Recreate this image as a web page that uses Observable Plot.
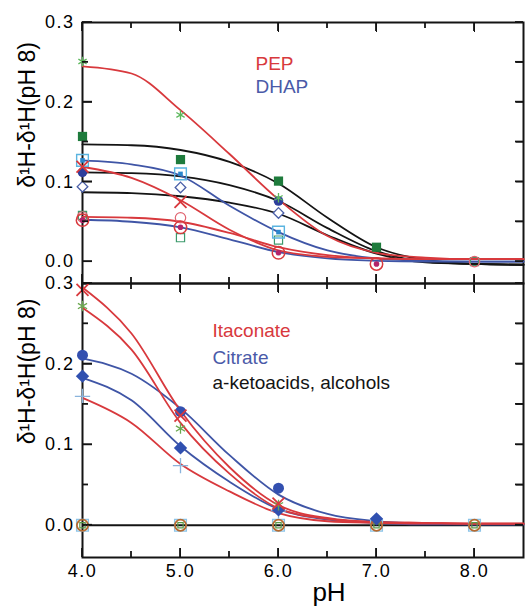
<!DOCTYPE html>
<html><head><meta charset="utf-8">
<script src="https://cdn.jsdelivr.net/npm/d3@7"></script>
<script src="https://cdn.jsdelivr.net/npm/@observablehq/plot@0.6"></script>
<style>
body{margin:0;background:#fff;}
#chart{position:relative;width:525px;height:607px;background:#fff;}
#chart svg{position:absolute;left:0;}
</style></head><body><div id="chart"></div>
<script>
const pH = [4, 5, 6, 7, 8];
const pHfit = [4, 4.5, 5, 5.5, 6, 6.5, 7, 7.5, 8, 8.5];
const xMajor = [4, 5, 6, 7, 8];
const xMinor = [4.5, 5.5, 6.5, 7.5];
const yMajor = [0, 0.1, 0.2, 0.3];
const yMinor = [0.05, 0.15, 0.25];
const yTitle = "δ¹H-δ¹H(pH 8)";
const xTitle = "pH";

const topLabels = ["PEP", "DHAP"];
const topStar      = [0.251, 0.184, 0.080, null, null];
const topGreenSq   = [0.157, 0.128, 0.101, 0.018, null];
const topCyanSq    = [0.127, 0.110, 0.037, null, null];
const topBlueDot   = [0.112, null, 0.076, null, null];
const topDiamond   = [0.094, 0.093, 0.061, null, null];
const topRedX      = [0.119, 0.075, null, null, null];
const topRedCircle = [0.056, 0.055, null, null, 0.000];
const topBullseye  = [0.052, 0.043, 0.011, -0.003, null];
const topGreenOpen = [0.058, 0.030, 0.027, null, 0.000];

const fitPEP    = [0.245, 0.236, 0.190, 0.135, 0.078, 0.032, 0.011, 0.005, 0.003, 0.003];
const fitRed2   = [0.119, 0.105, 0.077, 0.040, 0.014, 0.006, 0.004, 0.003, 0.003, 0.003];
const fitRed3   = [0.056, 0.055, 0.050, 0.036, 0.018, 0.008, 0.004, 0.003, 0.003, 0.003];
const fitBlack1 = [0.147, 0.146, 0.140, 0.125, 0.098, 0.055, 0.018, 0.002, -0.003, -0.004];
const fitBlack2 = [0.112, 0.111, 0.107, 0.096, 0.076, 0.042, 0.013, 0.000, -0.003, -0.004];
const fitBlack3 = [0.087, 0.086, 0.082, 0.074, 0.060, 0.033, 0.010, -0.001, -0.003, -0.004];
const fitBlue1  = [0.127, 0.122, 0.108, 0.070, 0.037, 0.014, 0.004, 0.001, 0.000, 0.000];
const fitBlue2  = [0.0525, 0.050, 0.043, 0.028, 0.012, 0.004, 0.001, 0.000, 0.000, 0.000];

const botLabels = ["Itaconate", "Citrate", "a-ketoacids, alcohols"];
const botRedX    = [0.292, 0.136, 0.027, null, null];
const botStar    = [0.272, 0.120, 0.025, null, null];
const botBlueDot = [0.211, 0.141, 0.046, null, null];
const botDiamond = [0.185, 0.096, 0.019, 0.008, null];
const botPlus    = [0.160, 0.074, 0.018, null, null];
const botZero    = [0, 0, 0, 0, 0];

const fitBX      = [0.295, 0.238, 0.142, 0.072, 0.025, 0.009, 0.004, 0.003, 0.002, 0.002];
const fitBStar   = [0.270, 0.218, 0.127, 0.064, 0.021, 0.008, 0.004, 0.003, 0.002, 0.002];
const fitBDot    = [0.207, 0.188, 0.145, 0.087, 0.038, 0.014, 0.005, 0.002, 0.001, 0.001];
const fitBDiam   = [0.183, 0.155, 0.098, 0.054, 0.020, 0.007, 0.003, 0.001, 0.001, 0.001];
const fitBPlus   = [0.158, 0.127, 0.076, 0.042, 0.015, 0.005, 0.003, 0.002, 0.002, 0.002];

const RED = "#d8393d", BLUE = "#3f55a6", BLACK = "#141414";
const font = "'Liberation Sans', Arial, Helvetica, sans-serif";
const W = 525, ML = 82, MR = 2;
const pts = ys => pH.map((x, i) => [x, ys[i]]);
const fit = ys => pHfit.map((x, i) => [x, ys[i]]);
const svgStyle = {fontSize: "18px", fontFamily: font, overflow: "visible"};
const none = () => "";

function frameTicks() {
  return [
    Plot.frame({stroke: BLACK, strokeWidth: 2, fill: "none"}),
    Plot.axisX({anchor: "top", ticks: xMajor, tickSize: -9, tickFormat: none, stroke: BLACK}),
    Plot.axisX({anchor: "bottom", ticks: xMajor, tickSize: -9, tickFormat: none, stroke: BLACK}),
    Plot.axisY({anchor: "left", ticks: yMajor, tickSize: -10, tickFormat: none, stroke: BLACK}),
    Plot.axisY({anchor: "right", ticks: yMajor.concat(yMinor), tickSize: -8, tickFormat: none, stroke: BLACK})
  ];
}
const line = (ys, stroke) => Plot.line(fit(ys), {stroke, strokeWidth: 1.8, curve: "monotone-x"});
const yLabels = () => Plot.axisY({anchor: "left", ticks: yMajor, tickSize: 0, tickPadding: 8, tickFormat: d3.format(".1f"), label: null});

const topChart = Plot.plot({
  width: W, height: 283, marginTop: 22, marginBottom: 0, marginLeft: ML, marginRight: MR,
  x: {domain: [4, 8.5], axis: null},
  y: {domain: [-0.0275, 0.3], axis: null},
  style: svgStyle,
  marks: [
    ...frameTicks(),
    yLabels(),
    Plot.text([yTitle], {frameAnchor: "left", rotate: -90, textAnchor: "middle", lineAnchor: "middle", dx: -55, dy: -38, fontSize: 23}),
    line(fitBlack1, BLACK), line(fitBlack2, BLACK), line(fitBlack3, BLACK),
    line(fitBlue1, BLUE), line(fitBlue2, BLUE),
    line(fitPEP, RED), line(fitRed2, RED), line(fitRed3, RED),
    Plot.dot(pts(topGreenOpen), {symbol: "square", r: 4.6, fill: "none", stroke: "#3c9a6c", strokeWidth: 1.2}),
    Plot.dot(pts(topRedCircle), {symbol: "circle", r: 5.2, fill: "none", stroke: "#e06470", strokeWidth: 1.2}),
    Plot.dot(pts(topDiamond), {symbol: "diamond2", r: 4.8, fill: "white", stroke: "#4a5fa8", strokeWidth: 1.3}),
    Plot.dot(pts(topBlueDot), {symbol: "circle", r: 4.8, fill: "#2d3e9c"}),
    Plot.dot(pts(topCyanSq), {symbol: "square", r: 6.6, fill: "none", stroke: "#5ab4e0", strokeWidth: 1.4}),
    Plot.dot(pts(topCyanSq), {symbol: "square", r: 2.6, fill: "#2a86cc"}),
    Plot.dot(pts(topGreenSq), {symbol: "square", r: 5.2, fill: "#1e7b3c"}),
    Plot.dot(pts(topRedX), {symbol: "times", r: 5.5, stroke: RED, strokeWidth: 1.8}),
    Plot.dot(pts(topStar), {symbol: "asterisk", r: 4.5, stroke: "#5cb85c", strokeWidth: 1.3}),
    Plot.dot(pts(topBullseye), {symbol: "circle", r: 6.2, fill: "none", stroke: RED, strokeWidth: 1.5}),
    Plot.dot(pts(topBullseye), {symbol: "circle", r: 2.8, fill: "#b3246a"}),
    Plot.text([topLabels[0]], {frameAnchor: "top-left", textAnchor: "start", lineAnchor: "middle", dx: 173, dy: 41, fontSize: 19, fill: RED}),
    Plot.text([topLabels[1]], {frameAnchor: "top-left", textAnchor: "start", lineAnchor: "middle", dx: 173, dy: 64, fontSize: 19, fill: "#4a5aa8"})
  ]
});

const bottomChart = Plot.plot({
  width: W, height: 324, marginTop: 0, marginBottom: 50, marginLeft: ML, marginRight: MR,
  x: {domain: [4, 8.5], axis: null},
  y: {domain: [-0.04, 0.3], axis: null},
  style: svgStyle,
  marks: [
    ...frameTicks(),
    yLabels(),
    Plot.axisX({anchor: "bottom", ticks: xMajor, tickSize: 0, tickPadding: 7, tickFormat: d3.format(".1f"), label: null}),
    Plot.text([yTitle], {frameAnchor: "left", rotate: -90, textAnchor: "middle", lineAnchor: "middle", dx: -55, dy: -49, fontSize: 23}),
    Plot.text([xTitle], {frameAnchor: "bottom", lineAnchor: "middle", dx: 26, dy: 35, fontSize: 26}),
    Plot.ruleY([0], {stroke: BLACK, strokeWidth: 2}),
    line(fitBDot, BLUE), line(fitBDiam, BLUE),
    line(fitBX, RED), line(fitBStar, RED), line(fitBPlus, RED),
    Plot.dot(pts(botZero), {symbol: "square", r: 6.6, fill: "none", stroke: "#8cc4e8", strokeWidth: 1.4}),
    Plot.dot(pts(botZero), {symbol: "circle", r: 5.6, fill: "none", stroke: "#b56a30", strokeWidth: 1.8}),
    Plot.dot(pts(botZero), {symbol: "square", r: 3, fill: "none", stroke: "#5a9a4a", strokeWidth: 1.2}),
    Plot.dot(pts(botPlus), {symbol: "plus", r: 5, stroke: "#8ab4dc", strokeWidth: 1.3}),
    Plot.dot(pts(botDiamond), {symbol: "diamond2", r: 6, fill: "#3050b0"}),
    Plot.dot(pts(botBlueDot), {symbol: "circle", r: 5.5, fill: "#3350b0"}),
    Plot.dot(pts(botStar), {symbol: "asterisk", r: 5, stroke: "#6aa84f", strokeWidth: 1.3}),
    Plot.dot(pts(botRedX), {symbol: "times", r: 5.5, stroke: RED, strokeWidth: 1.8}),
    Plot.text([botLabels[0]], {frameAnchor: "top-left", textAnchor: "start", lineAnchor: "middle", dx: 130, dy: 47, fontSize: 19, fill: RED}),
    Plot.text([botLabels[1]], {frameAnchor: "top-left", textAnchor: "start", lineAnchor: "middle", dx: 130, dy: 74, fontSize: 19, fill: "#4a5aa8"}),
    Plot.text([botLabels[2]], {frameAnchor: "top-left", textAnchor: "start", lineAnchor: "middle", dx: 130, dy: 99, fontSize: 19, fill: BLACK})
  ]
});

const chart = document.getElementById("chart");
topChart.style.top = "0px";
bottomChart.style.top = "283px";
chart.appendChild(topChart);
chart.appendChild(bottomChart);

// inward frame ticks positioned with Plot's own scales
function addTicks(svg) {
  try {
    const sx = svg.scale("x"), sy = svg.scale("y");
    const fx = sx.apply ? v => sx.apply(v) : d3.scaleLinear(sx.domain, sx.range);
    const fy = sy.apply ? v => sy.apply(v) : d3.scaleLinear(sy.domain, sy.range);
    const [x0, x1] = d3.extent(sx.range), [y0, y1] = d3.extent(sy.range);
    const g = d3.select(svg).append("g").attr("stroke", BLACK).attr("stroke-width", 1.8);
    const seg = (a, b, c, d) => g.append("line").attr("x1", a).attr("y1", b).attr("x2", c).attr("y2", d);
    for (const v of xMajor) { const X = fx(v); seg(X, y0, X, y0 + 9); seg(X, y1 - 9, X, y1); }
    for (const v of xMinor) { const X = fx(v); seg(X, y0, X, y0 + 6); seg(X, y1 - 6, X, y1); }
    for (const v of yMajor) { const Y = fy(v); seg(x0, Y, x0 + 10, Y); seg(x1 - 8, Y, x1, Y); }
    for (const v of yMinor) { const Y = fy(v); seg(x0, Y, x0 + 6, Y); seg(x1 - 8, Y, x1, Y); }
  } catch (e) {}
}
addTicks(topChart);
addTicks(bottomChart);
for (const svg of [topChart, bottomChart]) {
  svg.querySelectorAll('g[aria-label="y-axis tick label"] text, g[aria-label="x-axis tick label"] text').forEach(t => {
    if (t.textContent === "") t.remove(); else t.setAttribute("letter-spacing", "1.5");
  });
}
</script></body></html>
